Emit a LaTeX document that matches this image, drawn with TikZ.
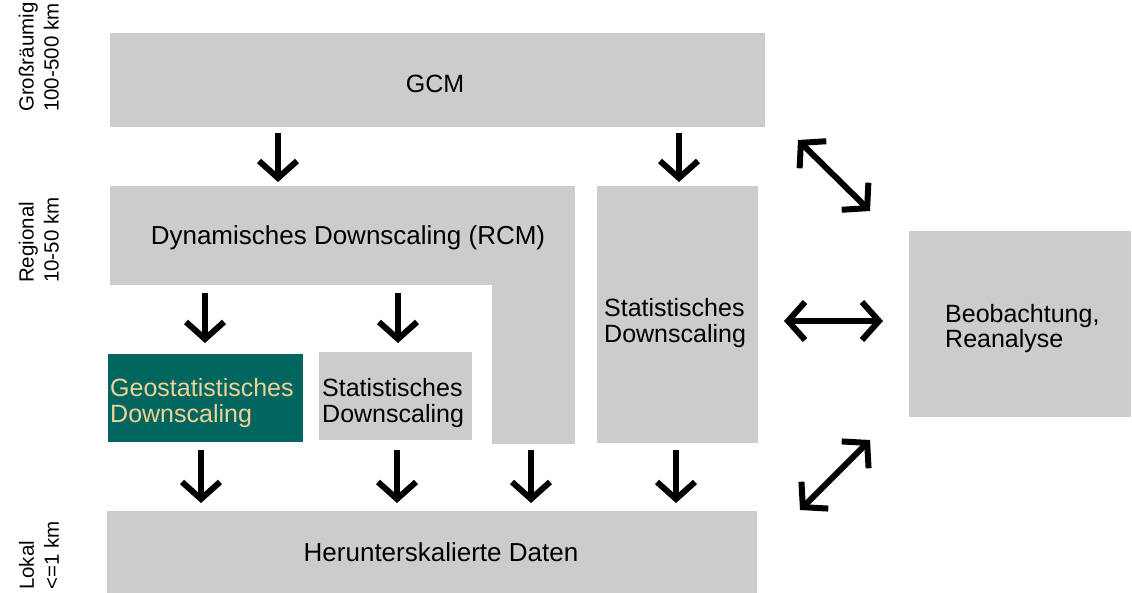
\documentclass[tikz,border=0pt]{standalone}
\usepackage{fontspec}
\setmainfont{Liberation Sans}
\usetikzlibrary{arrows.meta}
\definecolor{boxgrey}{HTML}{CCCCCC}
\definecolor{tealbox}{HTML}{00665F}
\definecolor{tantext}{RGB}{238,210,150}
\begin{document}
\begin{tikzpicture}[x=1pt,y=-1pt,
  box/.style={fill=boxgrey, draw=none, inner sep=0pt, outer sep=0pt, anchor=north west},
  txt/.style={font=\fontsize{26}{25}\selectfont, inner sep=0pt, text=black},
  txtml/.style={font=\fontsize{25}{25.5}\selectfont, inner sep=0pt, align=left, anchor=west, text=black},
  side/.style={font=\fontsize{20.5}{25}\selectfont, rotate=90, align=left, inner sep=0pt, anchor=south west},
  tipbarb/.tip={Straight Barb[length=17pt,width=38pt,line width=6pt]},
  arr/.style={line width=6pt, -tipbarb},
  dbl/.style={line width=6pt, tipbarb-tipbarb}
]
\useasboundingbox (0,0) rectangle (1132,592);

% boxes
\node[box, minimum width=655pt, minimum height=94pt] (gcm) at (110,33) {};
\node[box, minimum width=465pt, minimum height=99pt] (dyn) at (110,186) {};
\node[box, minimum width=83pt, minimum height=160pt] (dynv) at (492,284) {};
\node[box, minimum width=161pt, minimum height=257pt] (statr) at (597,186) {};
\node[box, fill=tealbox, minimum width=195pt, minimum height=88pt] (geo) at (108,354) {};
\node[box, minimum width=153pt, minimum height=88pt] (stats) at (319,352) {};
\node[box, minimum width=222pt, minimum height=186pt] (beob) at (909,231) {};
\node[box, minimum width=650pt, minimum height=82pt] (daten) at (107,511) {};

% texts
\node[txt, font=\fontsize{25}{25}\selectfont, anchor=base] (tgcm) at (435,92) {GCM};
\node[txt, anchor=base] (tdyn) at (348,244) {Dynamisches Downscaling (RCM)};
\node[txt, anchor=base] (tdaten) at (441,561) {Herunterskalierte Daten};
\node[txtml, text=tantext] (tgeo) at (110,403) {Geostatistisches\\Downscaling};
\node[txtml] (tstats) at (322,403) {Statistisches\\Downscaling};
\node[txtml] (tstatr) at (604,323) {Statistisches\\Downscaling};
\node[txtml] (tbeob) at (945,328.5) {Beobachtung,\\Reanalyse};

% side labels
\node[side] (lgross) at (59,112) {Großräumig\\100-500 km};
\node[side] (lreg) at (59,283) {Regional\\10-50 km};
\node[side] (llok) at (59,590) {Lokal\\<=1 km};

% x positions for vertical arrows
\coordinate (xa) at (278,0);
\coordinate (xb) at (679,0);
\coordinate (xc) at (205,0);
\coordinate (xd) at (398,0);
\coordinate (xe) at (201,0);
\coordinate (xf) at (397,0);
\coordinate (xg) at (531,0);
\coordinate (xh) at (676,0);
\coordinate (yh) at (0,321);

\draw[arr, shorten <=6pt, shorten >=4pt] (gcm.south -| xa) -- (dyn.north -| xa);
\draw[arr, shorten <=6pt, shorten >=4pt] (gcm.south -| xb) -- (statr.north -| xb);
\draw[arr, shorten <=8pt, shorten >=11pt] (dyn.south -| xc) -- (geo.north -| xc);
\draw[arr, shorten <=8pt, shorten >=9pt] (dyn.south -| xd) -- (stats.north -| xd);
\draw[arr, shorten <=8pt, shorten >=8pt] (geo.south -| xe) -- (daten.north -| xe);
\draw[arr, shorten <=10pt, shorten >=8pt] (stats.south -| xf) -- (daten.north -| xf);
\draw[arr, shorten <=6pt, shorten >=8pt] (dynv.south -| xg) -- (daten.north -| xg);
\draw[arr, shorten <=7pt, shorten >=8pt] (statr.south -| xh) -- (daten.north -| xh);

% double arrows
\draw[dbl, shorten <=26pt, shorten >=26pt] (statr.east |- yh) -- (beob.west |- yh);
\coordinate (d1a) at (798,140);
\coordinate (d1b) at (870,211);
\coordinate (d2a) at (800,510);
\coordinate (d2b) at (870,440);
\draw[dbl] (d1a) -- (d1b);
\draw[dbl] (d2a) -- (d2b);
\end{tikzpicture}
\end{document}
